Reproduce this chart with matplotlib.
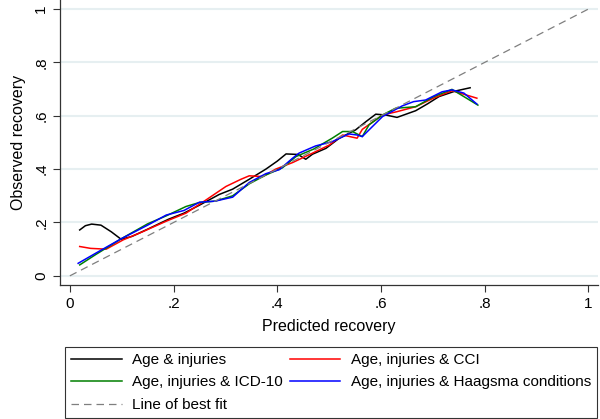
import matplotlib
matplotlib.use("Agg")
import matplotlib.pyplot as plt

plt.rcParams['font.family'] = ['Liberation Sans', 'DejaVu Sans']

# Age & injuries
x_black = [0.019, 0.03, 0.042, 0.06, 0.08, 0.099, 0.12, 0.15, 0.19, 0.22, 0.25, 0.288, 0.314,
           0.346, 0.378, 0.40, 0.417, 0.44, 0.455, 0.468, 0.494, 0.519, 0.551, 0.571, 0.59,
           0.609, 0.631, 0.644, 0.667, 0.69, 0.712, 0.744, 0.772]
y_black = [0.172, 0.188, 0.194, 0.19, 0.165, 0.137, 0.148, 0.175, 0.212, 0.235, 0.265, 0.305, 0.325,
           0.362, 0.40, 0.43, 0.457, 0.455, 0.437, 0.456, 0.478, 0.515, 0.547, 0.578, 0.606,
           0.603, 0.594, 0.603, 0.619, 0.645, 0.672, 0.693, 0.705]

# Age, injuries & CCI
x_red = [0.019, 0.04, 0.07, 0.103, 0.14, 0.186, 0.224, 0.263, 0.301, 0.33, 0.346, 0.372,
         0.397, 0.43, 0.468, 0.50, 0.526, 0.554, 0.564, 0.603, 0.63, 0.667, 0.70, 0.737, 0.785]
y_red = [0.11, 0.103, 0.1, 0.135, 0.165, 0.205, 0.235, 0.285, 0.335, 0.362, 0.375, 0.372,
         0.40, 0.425, 0.46, 0.49, 0.528, 0.516, 0.549, 0.603, 0.615, 0.634, 0.665, 0.694, 0.666]

# Age, injuries & ICD-10
x_green = [0.019, 0.05, 0.1, 0.15, 0.186, 0.224, 0.25, 0.28, 0.314, 0.346, 0.378, 0.41,
           0.436, 0.47, 0.506, 0.526, 0.545, 0.564, 0.577, 0.603, 0.628, 0.667, 0.70,
           0.737, 0.787]
y_green = [0.041, 0.08, 0.14, 0.195, 0.225, 0.26, 0.275, 0.28, 0.3, 0.345, 0.378, 0.405,
           0.447, 0.475, 0.516, 0.541, 0.541, 0.522, 0.566, 0.603, 0.628, 0.634, 0.67,
           0.699, 0.64]

# Age, injuries & Haagsma conditions
x_blue = [0.016, 0.05, 0.1, 0.15, 0.186, 0.22, 0.25, 0.28, 0.314, 0.346, 0.378, 0.404,
          0.429, 0.442, 0.474, 0.506, 0.538, 0.554, 0.564, 0.603, 0.641, 0.663, 0.686,
          0.718, 0.737, 0.76, 0.785]
y_blue = [0.047, 0.085, 0.14, 0.19, 0.228, 0.245, 0.276, 0.28, 0.295, 0.35, 0.383, 0.398,
          0.44, 0.46, 0.487, 0.503, 0.532, 0.528, 0.522, 0.597, 0.637, 0.653, 0.659,
          0.69, 0.697, 0.685, 0.644]

fit_x = [0, 1]
fit_y = [0, 1]

ticks = [0, 0.2, 0.4, 0.6, 0.8, 1.0]
tick_labels = ["0", ".2", ".4", ".6", ".8", "1"]

fig = plt.figure(figsize=(6.0, 4.19), dpi=100)
ax = fig.add_axes([0.1, 0.32, 0.897, 0.68])

ax.plot(x_black, y_black, color='black', lw=1.1, label='Age & injuries')
ax.plot(x_red, y_red, color='#ff0000', lw=1.1, label='Age, injuries & CCI')
ax.plot(x_green, y_green, color='#007f00', lw=1.1, label='Age, injuries & ICD-10')
ax.plot(x_blue, y_blue, color='#0000ff', lw=1.1, label='Age, injuries & Haagsma conditions')
ax.plot(fit_x, fit_y, color='#7f7f7f', lw=0.9, dashes=(6, 4), label='Line of best fit')

ax.set_xlim(-0.019, 1.019)
ax.set_ylim(-0.034, 1.034)
ax.set_xticks(ticks)
ax.set_xticklabels(tick_labels)
ax.set_yticks(ticks)
ax.set_yticklabels(tick_labels, rotation=90, va='center')
ax.tick_params(direction='out', length=5, width=0.8, colors='#333333', labelsize=11,
               labelcolor='black')
ax.yaxis.grid(True, color='#e6eff1', lw=1.5)
ax.set_axisbelow(True)
for s in ['top', 'right']:
    ax.spines[s].set_visible(False)
for s in ['left', 'bottom']:
    ax.spines[s].set_color('#333333')
    ax.spines[s].set_linewidth(0.9)

ax.set_xlabel('Predicted recovery', fontsize=11.5, labelpad=6)
ax.set_ylabel('Observed recovery', fontsize=11.5, labelpad=6)

h, l = ax.get_legend_handles_labels()
idx = [0, 2, 4, 1, 3]
leg = fig.legend([h[i] for i in idx], [l[i] for i in idx],
                 ncol=2, loc='lower left',
                 bbox_to_anchor=(65 / 600, 1 - 418 / 419, (597 - 65) / 600, (418 - 345) / 419),
                 mode='expand', fontsize=11, frameon=True, fancybox=False,
                 edgecolor='black', handlelength=3.3, handletextpad=0.7,
                 labelspacing=0.55, borderpad=0.4, borderaxespad=0)
leg.get_frame().set_linewidth(0.8)

fig.savefig('out.png', dpi=100)
